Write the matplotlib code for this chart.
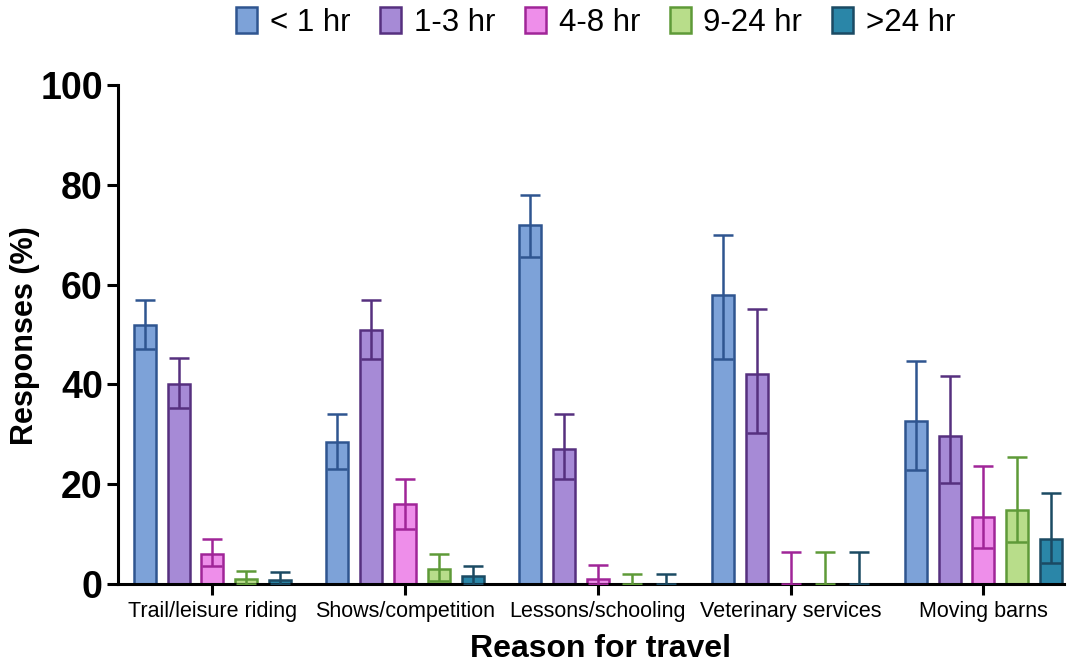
import matplotlib
matplotlib.use("Agg")
import matplotlib.pyplot as plt
import numpy as np

plt.rcParams["font.family"] = ["Liberation Sans", "DejaVu Sans"]

reasons = ["Trail/leisure riding", "Shows/competition", "Lessons/schooling",
           "Veterinary services", "Moving barns"]
durations = ["< 1 hr", "1-3 hr", "4-8 hr", "9-24 hr", ">24 hr"]

# mean % responses per duration, one list per reason group
lt1 = [52, 28.5, 72, 58, 32.7]
h1_3 = [40, 51, 27, 42, 29.7]
h4_8 = [6, 16, 1, 0, 13.4]
h9_24 = [1, 3, 0, 0, 14.8]
gt24 = [0.8, 1.5, 0, 0, 9]

# confidence interval bounds
lt1_lo = [47, 23, 65.5, 45, 22.8]
lt1_hi = [57, 34, 78, 70, 44.7]
h1_3_lo = [35.3, 45, 21, 30.3, 20.2]
h1_3_hi = [45.3, 57, 34, 55.1, 41.7]
h4_8_lo = [3.5, 11, 0, 0, 7.2]
h4_8_hi = [9, 21, 3.8, 6.4, 23.6]
h9_24_lo = [0, 0.5, 0, 0, 8.4]
h9_24_hi = [2.5, 6, 2, 6.4, 25.4]
gt24_lo = [0, 0, 0, 0, 4.2]
gt24_hi = [2.3, 3.5, 2, 6.4, 18.2]

series = [
    (lt1, lt1_lo, lt1_hi, "#7da2d8", "#2f5590"),
    (h1_3, h1_3_lo, h1_3_hi, "#a68ad6", "#56307f"),
    (h4_8, h4_8_lo, h4_8_hi, "#ee8eea", "#a02598"),
    (h9_24, h9_24_lo, h9_24_hi, "#b8dd8a", "#5e9a38"),
    (gt24, gt24_lo, gt24_hi, "#2a86a8", "#1b4a63"),
]

fig = plt.figure(figsize=(10.73, 6.65), dpi=100)
ax = fig.add_axes([0.110, 0.122, 0.882, 0.750])

x = np.arange(len(reasons))
step = 0.176
width = 0.114
handles = []
for i, (vals, lo, hi, fc, ec) in enumerate(series):
    pos = x + (i - 2) * step
    vals = np.array(vals)
    err = np.vstack([vals - np.array(lo), np.array(hi) - vals])
    b = ax.bar(pos, vals, width, color=fc, edgecolor=ec, linewidth=1.8,
               label=durations[i], zorder=2)
    ax.errorbar(pos, vals, yerr=err, fmt="none", ecolor=ec, elinewidth=1.8,
                capsize=7, capthick=1.8, zorder=3)
    handles.append(b)

ax.set_ylim(0, 100)
ax.set_xlim(-0.49, 4.42)
ax.set_yticks([0, 20, 40, 60, 80, 100])
ax.set_xticks(x)
ax.set_xticklabels(reasons, fontsize=15.5)
for lbl in ax.get_yticklabels():
    lbl.set_fontsize(27)
    lbl.set_fontweight("bold")

ax.spines["top"].set_visible(False)
ax.spines["right"].set_visible(False)
ax.spines["left"].set_linewidth(2.2)
ax.spines["bottom"].set_linewidth(2.2)
ax.tick_params(axis="y", length=8, width=2.2, pad=3)
ax.tick_params(axis="x", length=8, width=2.2, pad=4)

ax.set_ylabel("Responses (%)", fontsize=22, fontweight="bold", va="center")
ax.yaxis.set_label_coords(-0.098, 0.497)
ax.set_xlabel("Reason for travel", fontsize=23, fontweight="bold", va="baseline")
ax.xaxis.set_label_coords(0.51, -0.146)

fig.legend(handles=handles, labels=durations, loc="center",
           bbox_to_anchor=(0.555, 0.966), ncol=5, frameon=False, fontsize=22.5,
           handlelength=0.68, handleheight=0.9, handletextpad=0.4,
           columnspacing=0.95, borderpad=0)

fig.savefig("out.png", dpi=100)
